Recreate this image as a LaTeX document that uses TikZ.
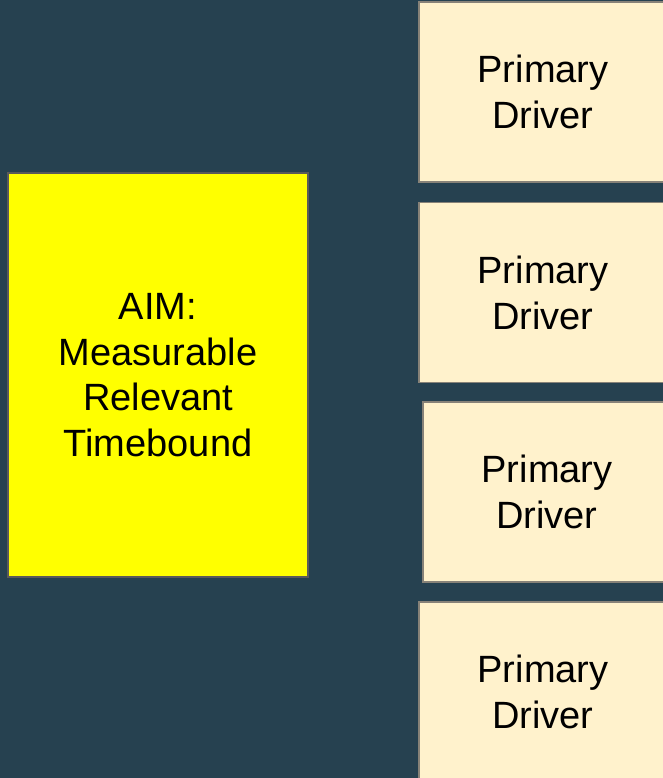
\documentclass[tikz,border=0pt]{standalone}
\usepackage{fontspec}
\setmainfont{Liberation Sans}
\definecolor{bgslate}{RGB}{38,65,80}
\definecolor{aimfill}{RGB}{255,255,0}
\definecolor{aimedge}{RGB}{90,90,90}
\definecolor{drvfill}{RGB}{255,242,204}
\definecolor{drvedge}{RGB}{135,130,120}
\tikzset{
  aimbox/.style={rectangle, fill=aimfill, draw=aimedge, line width=2pt,
    minimum width=300pt, minimum height=404pt, inner sep=0pt,
    align=center, font=\fontsize{38}{45.5}\selectfont},
  drvbox/.style={rectangle, fill=drvfill, draw=drvedge, line width=1.2pt,
    minimum width=248pt, minimum height=180pt, inner sep=0pt,
    align=center, font=\fontsize{38}{46}\selectfont}
}
\begin{document}
\begin{tikzpicture}[x=1pt,y=-1pt]
  \useasboundingbox (0,0) rectangle (663,778);
  \fill[bgslate] (0,0) rectangle (663,778);
  \clip (0,0) rectangle (663,778);
  % aim
  \node[aimbox] (aim) at (158,375) {AIM:\\Measurable\\Relevant\\Timebound};
  % primary drivers
  \node[drvbox] (d1) at (543,92) {Primary\\Driver};
  \node[drvbox] (d2) at (543,292.5) {Primary\\Driver};
  \node[drvbox] (d3) at (547,492) {Primary\\Driver};
  \node[drvbox] (d4) at (543,692) {Primary\\Driver};
\end{tikzpicture}
\end{document}
